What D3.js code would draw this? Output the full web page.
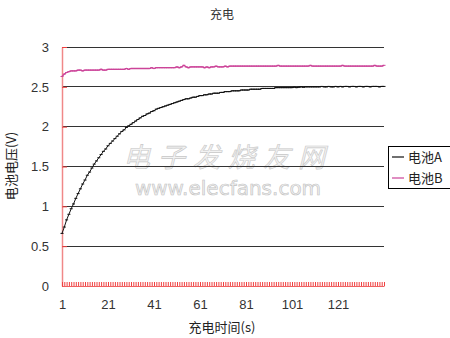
<!DOCTYPE html>
<html><head><meta charset="utf-8">
<script src="https://cdnjs.cloudflare.com/ajax/libs/d3/7.8.5/d3.min.js"></script>
<style>body{margin:0;background:#fff;}svg{display:block;}</style>
</head><body>
<svg id="c" width="450" height="338"></svg>
<script>
const title = "充电";
const xLabel = "充电时间(s)";
const yLabel = "电池电压(V)";
const seriesNames = ["电池A", "电池B"];
const yTicks = [0, 0.5, 1, 1.5, 2, 2.5, 3];
const xTickLabels = [1, 21, 41, 61, 81, 101, 121];
const batteryA = [
 0.66,0.74,0.83,0.90,0.97,1.03,1.10,1.16,1.22,1.28,
 1.33,1.39,1.43,1.48,1.53,1.57,1.61,1.65,1.69,1.72,
 1.76,1.79,1.82,1.85,1.88,1.91,1.94,1.96,1.99,2.01,
 2.03,2.05,2.07,2.09,2.11,2.13,2.14,2.16,2.17,2.19,
 2.20,2.22,2.23,2.24,2.25,2.26,2.27,2.28,2.29,2.30,
 2.31,2.32,2.33,2.34,2.35,2.35,2.36,2.37,2.37,2.38,
 2.39,2.39,2.40,2.40,2.41,2.41,2.42,2.42,2.42,2.43,
 2.43,2.44,2.44,2.44,2.45,2.45,2.45,2.45,2.46,2.46,
 2.46,2.46,2.47,2.47,2.47,2.47,2.47,2.48,2.48,2.48,
 2.48,2.48,2.48,2.49,2.49,2.49,2.49,2.49,2.49,2.49,
 2.49,2.495,2.49,2.495,2.50,2.495,2.50,2.50,2.50,2.50,
 2.50,2.50,2.50,2.505,2.50,2.50,2.505,2.50,2.50,2.505,
 2.50,2.505,2.50,2.505,2.505,2.50,2.505,2.505,2.50,2.505,
 2.505,2.50,2.505,2.505,2.50,2.505,2.505,2.505,2.50,2.505,2.505
];
const batteryB = [
 2.63,2.66,2.68,2.69,2.70,2.70,2.70,2.71,2.71,2.70,
 2.71,2.71,2.71,2.71,2.71,2.71,2.71,2.72,2.71,2.71,
 2.72,2.72,2.72,2.72,2.72,2.72,2.72,2.72,2.73,2.72,
 2.73,2.73,2.73,2.73,2.73,2.73,2.73,2.73,2.73,2.74,
 2.73,2.74,2.74,2.74,2.74,2.74,2.74,2.74,2.74,2.74,
 2.75,2.74,2.75,2.77,2.75,2.74,2.75,2.75,2.75,2.75,
 2.75,2.75,2.74,2.75,2.74,2.75,2.75,2.76,2.75,2.75,
 2.75,2.76,2.75,2.76,2.76,2.76,2.76,2.76,2.76,2.76,
 2.76,2.76,2.76,2.76,2.76,2.76,2.76,2.76,2.76,2.76,
 2.76,2.76,2.76,2.76,2.77,2.76,2.76,2.76,2.76,2.76,
 2.76,2.76,2.76,2.76,2.76,2.76,2.76,2.76,2.77,2.76,
 2.76,2.76,2.76,2.76,2.76,2.76,2.76,2.76,2.76,2.76,
 2.76,2.76,2.77,2.76,2.76,2.76,2.76,2.76,2.76,2.76,
 2.76,2.76,2.76,2.76,2.76,2.76,2.77,2.76,2.76,2.76,2.77
];
const seriesColors = ["#111111", "#cc4499"];

const svg = d3.select("#c");
const font = "'Noto Sans CJK SC', 'DejaVu Sans', sans-serif";
const L = 62, R = 384, T = 47, B = 286;
const idx = d3.range(1, batteryA.length + 1);
const x = d3.scaleLinear().domain([1, batteryA.length]).range([L, R]);
const y = d3.scaleLinear().domain([0, 3]).range([B, T]);

// watermark
svg.append("text").attr("x", 228).attr("y", 167).attr("text-anchor", "middle")
  .attr("font-family", font).attr("font-size", 27).attr("font-style", "italic")
  .attr("letter-spacing", 8)
  .attr("fill", "#f2f2f2").attr("stroke", "#c8c8c8").attr("stroke-width", 0.6)
  .text("电子发烧友网");
svg.append("text").attr("x", 228).attr("y", 195).attr("text-anchor", "middle")
  .attr("font-family", "'DejaVu Sans', sans-serif").attr("font-size", 20)
  .attr("fill", "#f2f2f2").attr("stroke", "#c0c0c0").attr("stroke-width", 0.6)
  .text("www.elecfans.com");

// gridlines
svg.append("g").selectAll("line").data(yTicks.filter(d => d > 0)).join("line")
  .attr("x1", L).attr("x2", R).attr("y1", d => y(d)).attr("y2", d => y(d))
  .attr("stroke", "#333").attr("stroke-width", 1).attr("shape-rendering", "crispEdges");

// y axis
const yAxis = svg.append("g").attr("transform", `translate(${L},0)`)
  .call(d3.axisLeft(y).tickValues(yTicks).tickFormat(d => d).tickSizeInner(-5).tickSizeOuter(0).tickPadding(13));
yAxis.select(".domain").attr("stroke", "#f08888").attr("stroke-width", 1.5);
yAxis.selectAll(".tick line").attr("stroke", "#f04040");
yAxis.selectAll("text").attr("font-family", "'Liberation Sans', sans-serif").attr("font-size", 13).attr("fill", "#333");

// x axis
const xAxis = svg.append("g").attr("transform", `translate(0,${B})`)
  .call(d3.axisBottom(x).tickValues(idx).tickFormat(d => xTickLabels.includes(d) ? d : "").tickSizeInner(-4).tickSizeOuter(0).tickPadding(14));
xAxis.select(".domain").attr("stroke", "#f06060").attr("stroke-width", 1.2);
xAxis.selectAll(".tick line").attr("stroke", "#f04040");
xAxis.selectAll("text").attr("font-family", "'Liberation Sans', sans-serif").attr("font-size", 13).attr("fill", "#333");

// series
const line = d3.line().x((d, i) => x(i + 1)).y(d => y(d));
[batteryA, batteryB].forEach((s, k) => {
  svg.append("path").datum(s).attr("d", line).attr("fill", "none")
    .attr("stroke", seriesColors[k]).attr("stroke-width", k === 0 ? 1.0 : 1.3);
  svg.append("g").selectAll("line").data(s).join("line")
    .attr("x1", (d, i) => x(i + 1) - 1.5).attr("x2", (d, i) => x(i + 1) + 1.5)
    .attr("y1", d => y(d)).attr("y2", d => y(d))
    .attr("stroke", seriesColors[k]).attr("stroke-width", 1);
});

// title and labels
svg.append("text").attr("x", 222).attr("y", 19).attr("text-anchor", "middle")
  .attr("font-family", font).attr("font-size", 12).attr("fill", "#333").text(title);
svg.append("text").attr("x", 222).attr("y", 332).attr("text-anchor", "middle")
  .attr("font-family", font).attr("font-size", 13).attr("fill", "#222").text(xLabel);
svg.append("text").attr("transform", "translate(16,166) rotate(-90)").attr("text-anchor", "middle")
  .attr("font-family", font).attr("font-size", 13).attr("fill", "#222").text(yLabel);

// legend
const lg = svg.append("g").attr("transform", "translate(388,146)");
lg.append("rect").attr("x", 0.5).attr("y", 0.5).attr("width", 62).attr("height", 42)
  .attr("fill", "#fff").attr("stroke", "#000").attr("stroke-width", 1);
seriesNames.forEach((n, k) => {
  const yy = 11 + k * 21;
  lg.append("line").attr("x1", 4).attr("x2", 16).attr("y1", yy).attr("y2", yy)
    .attr("stroke", seriesColors[k]).attr("stroke-width", 1.2);
  lg.append("text").attr("x", 20).attr("y", yy + 5).attr("font-family", font)
    .attr("font-size", 13).attr("fill", "#222").text(n);
});
</script>
</body></html>
